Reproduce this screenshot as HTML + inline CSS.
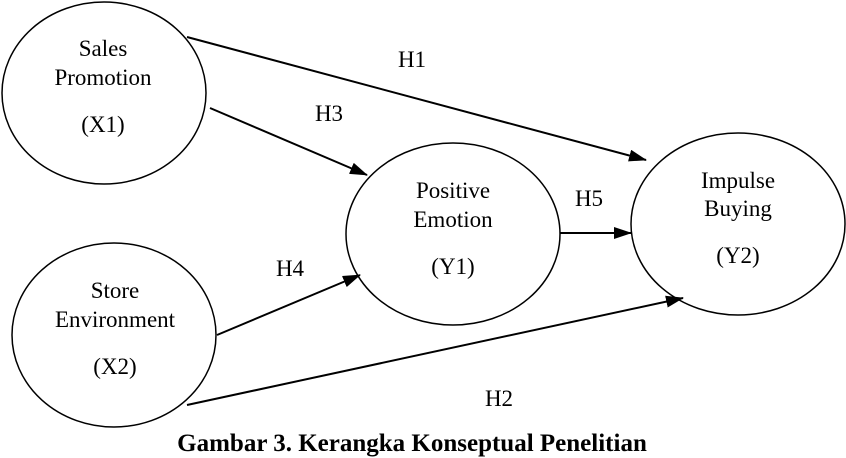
<!DOCTYPE html>
<html><head><style>body{margin:0;background:#fff}svg{display:block}</style></head><body>
<svg width="846" height="458" viewBox="0 0 846 458" xmlns="http://www.w3.org/2000/svg" font-family="Liberation Serif, serif" font-size="23" text-anchor="middle">
<defs><marker id="b" markerWidth="18" markerHeight="12" refX="17" refY="6" orient="auto" markerUnits="userSpaceOnUse"><path d="M0,0 L18,6 L0,12 Z" fill="#000"/></marker></defs>
<g fill="none" stroke="#000" stroke-width="1.5">
<ellipse cx="104" cy="93" rx="102" ry="91"/>
<ellipse cx="114" cy="335" rx="102" ry="92"/>
<ellipse cx="453" cy="234" rx="107" ry="91"/>
<ellipse cx="738" cy="224" rx="107" ry="91"/>
</g>
<g stroke="#000" stroke-width="2">
<line x1="187" y1="37" x2="646" y2="160" marker-end="url(#b)"/>
<line x1="210" y1="108" x2="367" y2="175" marker-end="url(#b)"/>
<line x1="217" y1="335" x2="360" y2="275" marker-end="url(#b)"/>
<line x1="560" y1="233" x2="631" y2="233" marker-end="url(#b)"/>
<line x1="187" y1="405" x2="683" y2="298" marker-end="url(#b)"/>
</g>
<text x="103" y="56">Sales</text><text x="103" y="85">Promotion</text><text x="103" y="132">(X1)</text>
<text x="115" y="298">Store</text><text x="115" y="327">Environment</text><text x="115" y="374">(X2)</text>
<text x="453" y="198">Positive</text><text x="453" y="227">Emotion</text><text x="453" y="274">(Y1)</text>
<text x="738" y="188">Impulse</text><text x="738" y="216">Buying</text><text x="738" y="263">(Y2)</text>
<text x="412" y="67">H1</text><text x="329" y="121">H3</text><text x="290" y="276">H4</text><text x="589" y="206">H5</text><text x="499" y="406">H2</text>
<text x="412" y="451" font-weight="bold" font-size="25">Gambar 3. Kerangka Konseptual Penelitian</text>
</svg>
</body></html>
